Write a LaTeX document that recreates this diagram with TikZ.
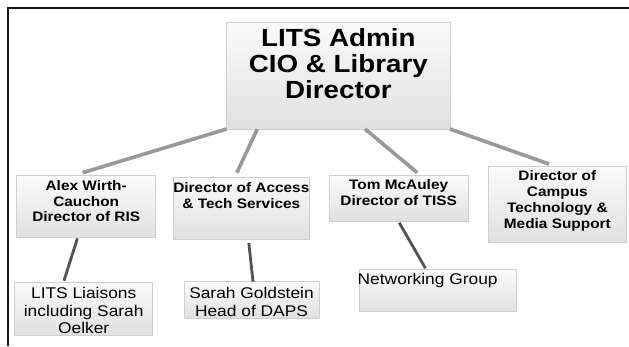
\documentclass[tikz,border=0pt]{standalone}
\usepackage{fontspec}
\setmainfont[FakeStretch=1.12]{Liberation Sans}
% box body: width, height, top padding, lines
\newcommand{\orgbody}[4]{\parbox[c][#2pt][t]{#1pt}{\vspace*{#3pt}\centering #4}}
\begin{document}
\begin{tikzpicture}[x=1pt,y=-1pt,
  orgbox/.style={draw=black!19, line width=0.8pt, top color=black!2,
    bottom color=black!12, inner sep=0pt, outer sep=0pt, anchor=north west},
  headtext/.style={font=\fontsize{24.8}{25.8}\selectfont\bfseries},
  midtext/.style={font=\fontsize{13.75}{15.8}\selectfont\bfseries},
  lowtext/.style={font=\fontsize{15.5}{17.2}\selectfont},
  upline/.style={draw=black!40, line width=3.6pt},
  downline/.style={draw=black!68, line width=2.8pt}]

% page and frame
\useasboundingbox[fill=white] (0,0) rectangle (629,346);
\draw[black!92, line width=2.2pt] (7.8,346) -- (7.8,7.8) -- (629,7.8);

% head
\node[orgbox, headtext] (head) at (226.7,22.3)
  {\orgbody{223.3}{106.7}{6.6}{LITS Admin\\CIO \& Library\\Director}};

% directors
\node[orgbox, midtext] (ris) at (16.7,175.7)
  {\orgbody{139}{61.6}{4.6}{Alex Wirth-\\Cauchon\\Director of RIS}};
\node[orgbox, midtext] (access) at (173.7,177)
  {\orgbody{135.3}{62}{5.3}{\makebox[\linewidth]{Director of Access}\\\& Tech Services}};
\node[orgbox, midtext] (tiss) at (329.3,175.7)
  {\orgbody{138.7}{46}{4.3}{Tom McAuley\\Director of TISS}};
\node[orgbox, midtext] (campus) at (488,166.7)
  {\orgbody{138.7}{75.6}{4.3}{Director of\\Campus\\Technology \&\\Media Support}};

% groups
\node[orgbox, lowtext] (liaisons) at (14.7,282)
  {\orgbody{138}{53.7}{5.6}{LITS Liaisons\\including Sarah\\Oelker}};
\node[orgbox, lowtext] (daps) at (184,281.7)
  {\orgbody{135}{36.3}{5.9}{Sarah Goldstein\\Head of DAPS}};
\node[orgbox, lowtext] (network) at (359,269.3)
  {\parbox[c][42.4pt][t]{157.7pt}{\vspace*{3.9pt}\raggedright\hspace*{-1.3pt}Networking Group}};

% reporting lines
\draw[upline] (head.south west) -- ([shift={(-3.5,-3)}]ris.north);
\draw[upline] ([xshift=30.6pt]head.south west) -- ([shift={(-4.5,-4.3)}]access.north);
\draw[upline] ([xshift=138.3pt]head.south west) -- ([shift={(18.6,-3)}]tiss.north);
\draw[upline] (head.south east) -- ([shift={(-8.3,-2.7)}]campus.north);

\draw[downline] ([shift={(-8.8,1)}]ris.south) -- ([shift={(-19.7,-1.3)}]liaisons.north);
\draw[downline] ([shift={(7.5,4)}]access.south) -- ([shift={(1.5,0)}]daps.north);
\draw[downline] ([shift={(0.6,1)}]tiss.south) -- ([shift={(-12.4,-1)}]network.north);
\end{tikzpicture}
\end{document}
